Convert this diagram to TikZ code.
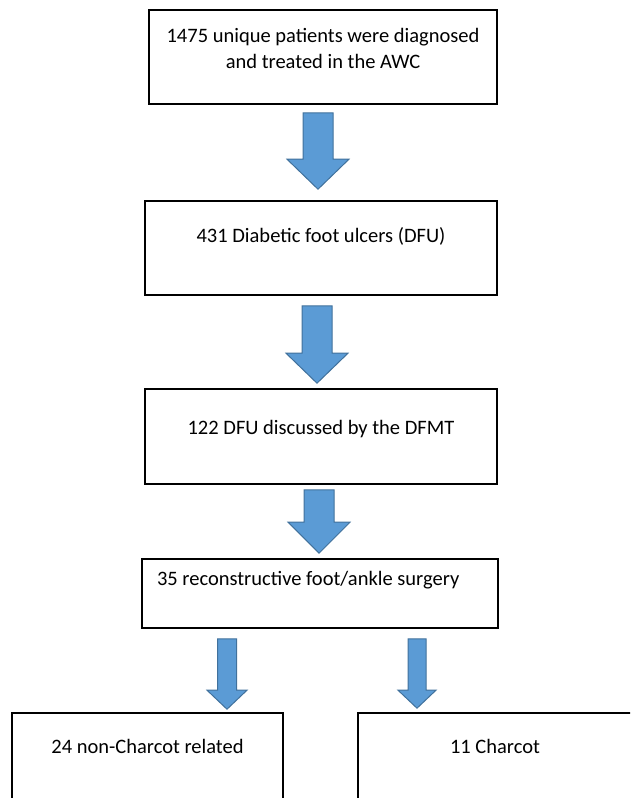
\documentclass[tikz,border=0pt]{standalone}
\usepackage{fontspec}
\setmainfont{Carlito}
\usetikzlibrary{calc}

\definecolor{arrowblue}{HTML}{5B9BD5}
\definecolor{arrowedge}{HTML}{41719C}

\tikzset{
  flowbox/.style={draw, line width=1.6pt, inner sep=0pt, align=center,
                  font=\fontsize{20.5}{26}\selectfont, text height=14pt},
  bluearr/.style={fill=arrowblue, draw=arrowedge, line width=1pt, line join=miter}
}

% #1 start, #2 tip, #3 shaft half width, #4 head half width, #5 head length
\newcommand\flowarrow[5]{%
  \draw[bluearr] let \p1=(#1), \p2=(#2) in
    (\x1-#3pt,\y1) -- (\x1+#3pt,\y1) -- (\x1+#3pt,\y2+#5pt) -- (\x1+#4pt,\y2+#5pt)
    -- (\x1,\y2) -- (\x1-#4pt,\y2+#5pt) -- (\x1-#3pt,\y2+#5pt) -- cycle;}

\begin{document}
\begin{tikzpicture}[x=1pt, y=-1pt]
\useasboundingbox (0,0) rectangle (630,798);
\clip (0,0) rectangle (630,798);

\node[flowbox, minimum width=348, minimum height=94, text height=40pt, text depth=18pt] (awc) at (323,57)
  {1475 unique patients were diagnosed\\and treated in the AWC};
\node[flowbox, minimum width=352, minimum height=94, text depth=26pt] (dfu) at (321,248)
  {431 Diabetic foot ulcers (DFU)};
\node[flowbox, minimum width=352, minimum height=95, text depth=19pt] (dfmt) at (321,436.5)
  {122 DFU discussed by the DFMT};
\node[flowbox, minimum width=356, minimum height=69, text depth=31pt,
      text width=326, align=flush left] (surg) at (320,593.5)
  {35 reconstructive foot/ankle surgery};
\node[flowbox, minimum width=271, minimum height=94, text depth=28pt] (noncharcot) at (147.5,760)
  {24 non-Charcot related};
\node[flowbox, minimum width=274, minimum height=94, text depth=28pt] (charcot) at (495,760)
  {11 Charcot};

\coordinate (a1s) at ($(awc.south)+(-5,8)$);
\coordinate (a1t) at ($(dfu.north)+(-3,-11)$);
\coordinate (a2s) at ($(dfu.south)+(-4,10)$);
\coordinate (a2t) at ($(dfmt.north)+(-4,-5)$);
\coordinate (a3s) at ($(dfmt.south)+(-2,5)$);
\coordinate (a3t) at ($(surg.north)+(-1,-5)$);
\coordinate (a4s) at ($(surg.south)+(-93,10)$);
\coordinate (a4t) at ($(noncharcot.north)+(79.5,-3)$);
\coordinate (a5s) at ($(surg.south)+(97,10)$);
\coordinate (a5t) at ($(charcot.north)+(-78,-4)$);

\flowarrow{a1s}{a1t}{15}{31}{30}
\flowarrow{a2s}{a2t}{15}{31}{30}
\flowarrow{a3s}{a3t}{15}{31}{31}
\flowarrow{a4s}{a4t}{9.5}{20}{19}
\flowarrow{a5s}{a5t}{9}{19}{18}
\end{tikzpicture}
\end{document}
